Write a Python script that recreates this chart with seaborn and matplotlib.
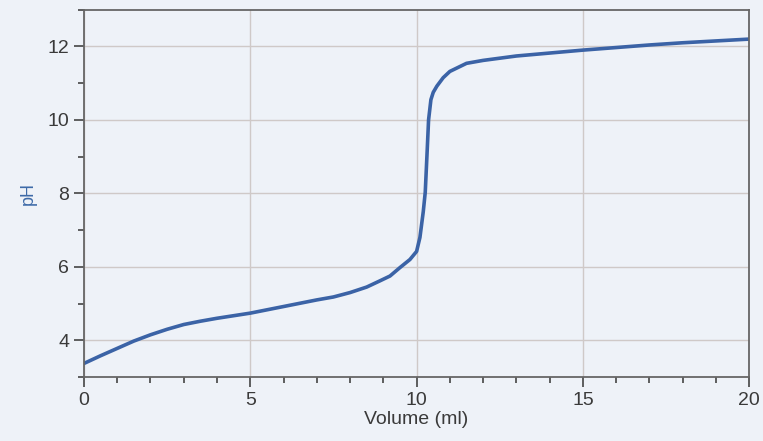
import numpy as np
import pandas as pd
import matplotlib.pyplot as plt
import seaborn as sns
from matplotlib.ticker import MultipleLocator

volumen = [0.0, 0.5, 1.0, 1.5, 2.0, 2.5, 3.0, 3.5, 4.0, 4.5, 5.0, 5.5, 6.0, 6.5,
           7.0, 7.5, 8.0, 8.5, 8.9, 9.2, 9.5, 9.8, 10.0, 10.1, 10.2, 10.26,
           10.32, 10.36, 10.43, 10.5, 10.61, 10.8, 11.0, 11.5, 12.0, 12.5,
           13.0, 14.0, 15.0, 16.0, 17.0, 18.0, 19.0, 20.0]
ph = [3.37, 3.58, 3.78, 3.98, 4.15, 4.3, 4.43, 4.52, 4.6, 4.67, 4.74, 4.83,
      4.92, 5.01, 5.1, 5.18, 5.3, 5.45, 5.62, 5.75, 5.98, 6.2, 6.42, 6.8,
      7.5, 8.03, 9.2, 10.0, 10.55, 10.75, 10.92, 11.15, 11.32, 11.54, 11.62,
      11.68, 11.74, 11.82, 11.9, 11.97, 12.04, 12.1, 12.15, 12.2]

df = pd.DataFrame({"Volume (ml)": volumen, "pH": ph})

fondo = "#eef2f8"
sns.set_style("white")
plt.rcParams["font.family"] = ["Liberation Sans Narrow", "Liberation Sans", "DejaVu Sans"]

fig = plt.figure(figsize=(7.63, 4.41), dpi=100, facecolor=fondo)
ax = fig.add_axes([0.110, 0.145, 0.872, 0.833])
ax.set_facecolor(fondo)

sns.lineplot(data=df, x="Volume (ml)", y="pH", ax=ax, color="#3b63a6",
             linewidth=2.6, sort=False)

ax.set_xlim(0, 20)
ax.set_ylim(3, 13)
ax.xaxis.set_major_locator(MultipleLocator(5))
ax.xaxis.set_minor_locator(MultipleLocator(1))
ax.yaxis.set_major_locator(MultipleLocator(2))
ax.yaxis.set_minor_locator(MultipleLocator(1))
ax.set_yticks([4, 6, 8, 10, 12])

ax.grid(True, which="major", color="#cfc9c8", linewidth=1.0)
ax.tick_params(which="major", direction="out", length=7, width=1.2,
               color="#444444", labelsize=14, labelcolor="#3a3a3a",
               bottom=True, left=True)
ax.tick_params(which="minor", direction="out", length=4, width=1.2,
               color="#444444", bottom=True, left=True)

for s in ax.spines.values():
    s.set_color("#666666")
    s.set_linewidth(1.3)

ax.set_xlabel("Volume (ml)", fontsize=14, color="#3a3a3a", labelpad=2)
ax.set_ylabel("pH", fontsize=13, color="#3d6aa8", labelpad=8)

plt.savefig("out.png", dpi=100, facecolor=fondo)
plt.close()
